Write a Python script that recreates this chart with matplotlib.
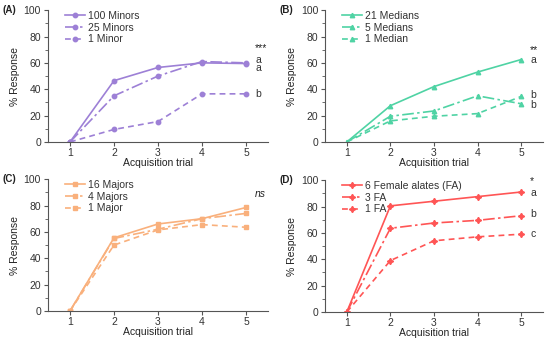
import matplotlib
matplotlib.use("Agg")
import matplotlib.pyplot as plt
from matplotlib.ticker import MultipleLocator

plt.rcParams['font.family'] = ['Liberation Sans', 'DejaVu Sans']

trials = [1, 2, 3, 4, 5]

# Panel A
a_names = ["100 Minors", "25 Minors", "1 Minor"]
a_100 = [0, 46.5, 56.5, 60, 59.5]
a_25 = [0, 35, 50, 61, 60]
a_1 = [0, 9.5, 15.5, 36.5, 36.5]
a_letters = ["a", "a", "b"]
a_letter_y = [62.5, 56, 36.5]
a_sig = "***"

# Panel B
b_names = ["21 Medians", "5 Medians", "1 Median"]
b_21 = [0, 27.5, 42, 53, 62.5]
b_5 = [0, 19.5, 23.5, 35, 29]
b_1 = [0, 16, 19.5, 21.5, 34.5]
b_letters = ["a", "b", "b"]
b_letter_y = [62.5, 35.5, 28]
b_sig = "**"

# Panel C
c_names = ["16 Majors", "4 Majors", "1 Major"]
c_16 = [0, 55.5, 66, 70, 78.5]
c_4 = [0, 55, 62, 70, 74]
c_1 = [0, 50, 61.5, 65.5, 63.5]
c_letters = []
c_letter_y = []
c_sig = "ns"

# Panel D
d_names = ["6 Female alates (FA)", "3 FA", "1 FA"]
d_6 = [0, 80.5, 84, 87.5, 91]
d_3 = [0, 63.5, 67.5, 69.5, 73]
d_1 = [0, 39, 54, 57, 59]
d_letters = ["a", "b", "c"]
d_letter_y = [90.5, 74.5, 59.5]
d_sig = "*"

fig = plt.figure(figsize=(5.5, 3.38), dpi=100)

panels = [
    ("(A)", [0.0873, 0.580, 0.400, 0.390], a_names, [a_100, a_25, a_1], "#9d80d6", "o", 3.2, a_letters, a_letter_y, a_sig, 71, False),
    ("(B)", [0.591, 0.580, 0.396, 0.390], b_names, [b_21, b_5, b_1], "#4fd3a4", "^", 3.2, b_letters, b_letter_y, b_sig, 70, False),
    ("(C)", [0.0873, 0.080, 0.400, 0.390], c_names, [c_16, c_4, c_1], "#f9b07c", "s", 3.2, c_letters, c_letter_y, c_sig, 89, True),
    ("(D)", [0.591, 0.077, 0.396, 0.390], d_names, [d_6, d_3, d_1], "#ff5555", (4, 1, 0), 4.5, d_letters, d_letter_y, d_sig, 99.5, False),
]

styles = ["-", (0, (7, 2, 1.5, 2)), (0, (3.5, 2.5))]

for label, pos, names, series, color, marker, ms, letters, ly, sig, sig_y, italic in panels:
    ax = fig.add_axes(pos)
    for name, vals, ls in zip(names, series, styles):
        ax.plot(trials, vals, color=color, linestyle=ls, marker=marker, ms=ms,
                lw=1.2, label=name)
    ax.set_xlim(0.5, 5.5)
    ax.set_ylim(0, 100)
    ax.set_xticks(trials)
    ax.yaxis.set_major_locator(MultipleLocator(20))
    ax.yaxis.set_minor_locator(MultipleLocator(10))
    for s in ["top", "right"]:
        ax.spines[s].set_visible(False)
    for s in ["left", "bottom"]:
        ax.spines[s].set_color("#555555")
        ax.spines[s].set_linewidth(0.8)
    ax.tick_params(axis="both", which="major", labelsize=7.5, length=3, width=0.8,
                   color="#555555", labelcolor="#333333", pad=2)
    ax.tick_params(axis="x", which="major", pad=1.5)
    ax.tick_params(axis="y", which="minor", length=2, width=0.6, color="#555555")
    ax.set_xlabel("Acquisition trial", fontsize=7.5, labelpad=-0.5, color="#222222")
    ax.set_ylabel("% Response", fontsize=7.5, labelpad=3, color="#222222")
    leg = ax.legend(loc="upper left", bbox_to_anchor=(0.05, 1.04), frameon=False,
                    fontsize=7.5, handlelength=1.9, handletextpad=0.3,
                    labelspacing=0.15, borderaxespad=0.2)
    for t in leg.get_texts():
        t.set_color("#333333")
    for lt, yv in zip(letters, ly):
        ax.text(5.22, yv, lt, fontsize=7.5, va="center", ha="left", color="#333333")
    ax.text(5.2, sig_y, sig, fontsize=7.5, va="center", ha="left", color="#222222",
            style="italic" if italic else "normal")
    fig.text(pos[0] - 0.082, pos[1] + pos[3], label, fontsize=7, fontweight="bold",
             va="center", ha="left", color="#222222")

fig.savefig("out.png", dpi=100)
